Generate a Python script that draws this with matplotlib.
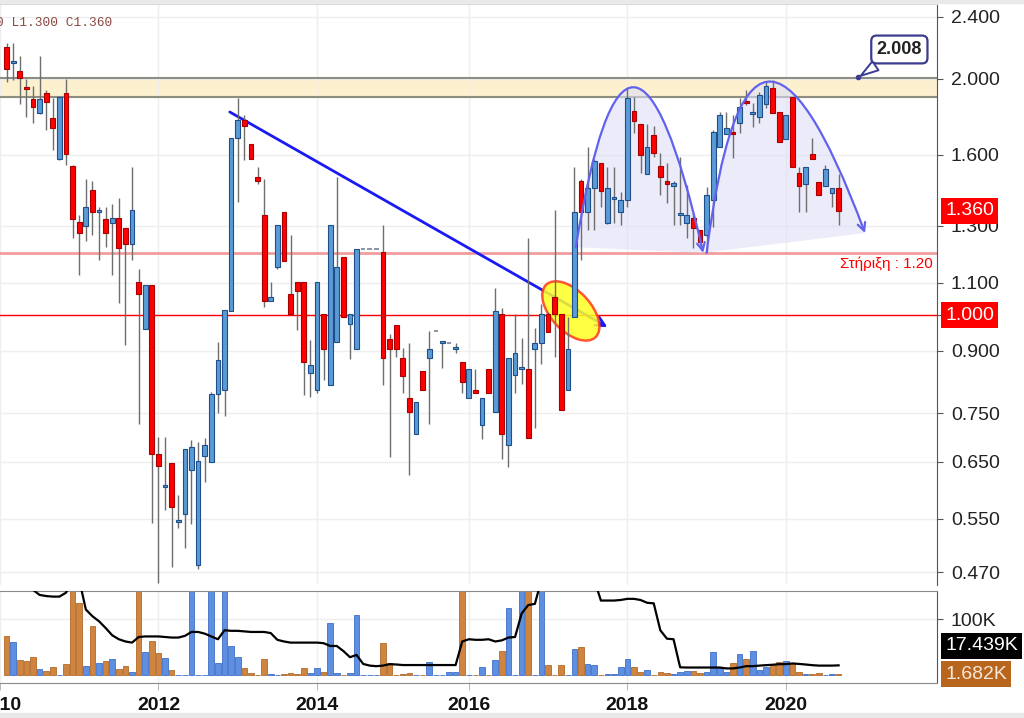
import numpy as np
import matplotlib
matplotlib.use("Agg")
import matplotlib.pyplot as plt
from matplotlib.patches import Ellipse, PathPatch, FancyArrowPatch, Rectangle
from matplotlib.path import Path
from matplotlib.transforms import ScaledTranslation, blended_transform_factory

plt.rcParams['font.family'] = ['Liberation Sans', 'DejaVu Sans']

# monthly bars, index 0 = Feb 2010 (axis is bar-index based)
opens = [2.195, 2.095, 2.046, 1.945, 1.884, 1.809, 1.918, 1.782, 1.580, 1.918,
         1.548, 1.314, 1.298, 1.443, 1.353, 1.325, 1.310, 1.329, 1.291, 1.232,
         1.102, 0.960, 1.092, 0.665, 0.603, 0.648, 0.545, 0.558, 0.635, 0.480,
         0.661, 0.650, 0.793, 0.803, 1.012, 1.681, 1.772, 1.651, 1.499, 1.341,
         1.042, 1.151, 1.353, 1.064, 1.102, 1.102, 0.843, 0.803, 1.003, 0.814,
         0.924, 1.185, 0.974, 0.905, 1.214, 1.214, 1.214, 1.203, 0.932, 0.971,
         0.882, 0.784, 0.705, 0.848, 0.882, 0.954, 0.921, 0.921, 0.905, 0.871,
         0.784, 0.803, 0.724, 0.853, 0.752, 1.003, 0.683, 0.839, 0.853, 0.853,
         0.905, 0.921, 1.003, 1.054, 1.003, 0.803, 0.994, 1.482, 1.353, 1.451,
         1.562, 1.310, 1.405, 1.353, 1.401, 1.819, 1.751, 1.512, 1.696, 1.548,
         1.482, 1.460, 1.341, 1.310, 1.329, 1.283, 1.265, 1.401, 1.637, 1.700,
         1.711, 1.756, 1.873, 1.803, 1.788, 1.857, 1.946, 1.814, 1.676, 1.896,
         1.517, 1.469, 1.604, 1.477, 1.460, 1.430, 1.451]
highs = [2.221, 2.221, 2.138, 1.998, 1.958, 2.138, 1.935, 1.890, 1.900, 1.998,
         1.553, 1.341, 1.490, 1.482, 1.373, 1.373, 1.385, 1.409, 1.291, 1.544,
         1.144, 1.092, 1.092, 0.699, 0.699, 0.648, 0.590, 0.675, 0.693, 0.689,
         0.697, 0.798, 0.924, 1.015, 1.681, 1.890, 1.798, 1.651, 1.544, 1.490,
         1.102, 1.302, 1.353, 1.265, 1.102, 1.102, 0.929, 1.102, 1.003, 1.302,
         1.499, 1.185, 1.003, 1.214, 1.214, 1.214, 1.214, 1.302, 0.946, 0.971,
         0.908, 0.921, 0.775, 0.848, 0.954, 0.954, 0.921, 0.921, 0.921, 0.871,
         0.853, 0.853, 0.784, 0.853, 1.082, 1.021, 0.882, 1.003, 0.935, 1.253,
         0.963, 1.033, 1.010, 1.361, 1.003, 0.994, 1.544, 1.490, 1.637, 1.580,
         1.562, 1.544, 1.544, 1.434, 1.946, 1.896, 1.751, 1.751, 1.740, 1.608,
         1.562, 1.480, 1.590, 1.464, 1.349, 1.283, 1.456, 1.721, 1.814, 1.814,
         1.798, 1.890, 1.935, 1.862, 1.924, 1.987, 1.992, 1.814, 1.798, 1.896,
         1.544, 1.544, 1.681, 1.477, 1.553, 1.451, 1.512]
lows = [1.981, 1.992, 1.857, 1.788, 1.756, 1.805, 1.721, 1.623, 1.576, 1.553,
        1.253, 1.124, 1.242, 1.265, 1.175, 1.221, 1.124, 1.036, 0.916, 1.175,
        0.726, 0.960, 0.543, 0.456, 0.564, 0.477, 0.535, 0.505, 0.542, 0.475,
        0.613, 0.650, 0.750, 0.744, 1.012, 1.393, 1.576, 1.580, 1.470, 1.024,
        1.042, 1.145, 1.172, 1.003, 0.957, 0.791, 0.786, 0.795, 0.826, 0.814,
        0.924, 0.994, 0.879, 0.905, 1.214, 1.214, 1.214, 0.814, 0.659, 0.884,
        0.795, 0.625, 0.705, 0.803, 0.726, 0.954, 0.856, 0.921, 0.894, 0.795,
        0.784, 0.795, 0.695, 0.795, 0.752, 0.655, 0.640, 0.795, 0.817, 0.697,
        0.718, 0.866, 0.951, 0.884, 0.757, 0.803, 0.994, 1.175, 1.283, 1.283,
        1.373, 1.306, 1.310, 1.302, 1.373, 1.706, 1.517, 1.512, 1.590, 1.422,
        1.389, 1.302, 1.302, 1.253, 1.217, 1.228, 1.203, 1.295, 1.637, 1.700,
        1.585, 1.706, 1.850, 1.736, 1.756, 1.835, 1.809, 1.661, 1.676, 1.544,
        1.353, 1.353, 1.580, 1.422, 1.460, 1.373, 1.302]
closes = [2.058, 2.100, 2.004, 1.940, 1.841, 1.884, 1.868, 1.731, 1.896, 1.604,
          1.325, 1.272, 1.373, 1.353, 1.361, 1.272, 1.329, 1.217, 1.232, 1.361,
          1.064, 1.092, 0.665, 0.642, 0.605, 0.569, 0.548, 0.675, 0.679, 0.652,
          0.683, 0.793, 0.876, 1.015, 1.681, 1.772, 1.741, 1.580, 1.482, 1.042,
          1.054, 1.302, 1.172, 1.003, 1.073, 0.871, 0.864, 1.102, 0.905, 1.302,
          1.151, 0.994, 1.003, 1.214, 1.214, 1.214, 1.214, 0.882, 0.905, 0.905,
          0.836, 0.752, 0.775, 0.803, 0.905, 0.954, 0.921, 0.921, 0.907, 0.822,
          0.853, 0.795, 0.784, 0.795, 1.012, 0.705, 0.882, 0.894, 0.855, 0.697,
          0.921, 1.003, 0.951, 1.003, 0.757, 0.905, 1.353, 1.353, 1.451, 1.571,
          1.439, 1.451, 1.407, 1.401, 1.890, 1.767, 1.599, 1.637, 1.608, 1.499,
          1.469, 1.473, 1.343, 1.341, 1.291, 1.239, 1.422, 1.711, 1.798, 1.731,
          1.700, 1.841, 1.862, 1.805, 1.907, 1.958, 1.809, 1.661, 1.798, 1.544,
          1.460, 1.544, 1.580, 1.422, 1.535, 1.451, 1.357]
# volume in thousands (tall bars run off the top of the panel)
volumes = [70, 59, 27, 25, 32, 11, 7, 14, 1, 20,
           200, 129, 16, 88, 21, 25, 28, 11, 16, 6,
           200, 41, 61, 40, 30, 9, 1, 0.5, 200, 0.5,
           0.5, 200, 22, 200, 52, 33, 12, 4, 1, 28,
           2, 0.5, 1.5, 3, 2, 12, 3, 12, 6, 93,
           3, 1, 3, 107, 0, 0, 0, 57, 21, 0.5,
           2, 3, 1, 0.5, 23, 0.5, 0, 5, 6, 200,
           0.5, 0.5, 14, 0.5, 27, 43, 120, 0.5, 200, 200,
           0.5, 200, 18, 0.5, 18, 0.5, 46, 50, 20, 18,
           1, 2, 2, 14, 29, 14, 5, 10, 1, 6,
           3, 2, 5, 7, 8, 3, 6, 41, 14, 6,
           21, 37, 28, 43, 10, 15, 20, 24, 26, 21,
           5, 1.5, 2, 3, 1, 2, 1.682]
vol_ma = [170, 170, 170, 170, 152, 143, 141, 140, 140, 147,
          170, 170, 117, 105, 96, 84, 71, 64, 60, 58,
          68, 69, 69, 69, 68, 67, 67, 70, 77, 77,
          74, 69, 64, 80, 79, 79, 78, 77, 77, 77,
          75, 63, 60, 58, 58, 58, 58, 58, 57, 52,
          52, 43, 32, 36, 20, 17, 16, 17, 19.6, 19,
          18, 18, 18, 18, 18, 18, 18, 18, 18, 60,
          64, 63, 63, 64, 60, 62, 67, 68, 110, 125,
          127, 170, 170, 170, 170, 170, 170, 170, 170, 170,
          133, 133, 133, 134, 136, 136, 134, 129, 128, 80,
          65, 64, 14, 13.6, 13.6, 13.6, 13.6, 13.6, 13.6, 12,
          12, 13.6, 16, 16, 17, 17.8, 18.5, 19.6, 19.6, 20.8,
          20, 19, 17.8, 17, 17, 17, 17.439]

year_labels = ['2010', '2012', '2014', '2016', '2018', '2020']
year_pos = [-1, 23, 47, 70, 94, 118]
price_ticks = [2.4, 2.0, 1.6, 1.3, 1.1, 1.0, 0.9, 0.75, 0.65, 0.55, 0.47]
legend_text = 'O1.420 H1.510 L1.300 C1.360'

# drawings on the chart
zone = (1.896, 2.004)
support_level = 1.20
round_level = 1.0
trend_start = (33.8, 1.814)
trend_end = (91.0, 0.965)
ellipse_center = (85.45, 1.012)
arc1 = [(86.2, 1.22), (94.1, 3.135), (105.5, 1.20)]
arc2 = [(106.0, 1.20), (112.4, 3.171), (130.0, 1.272)]
callout_xy = (129.0, 2.008)
callout_text_xy = (135.2, 2.179)

opens, highs, lows, closes = map(np.array, (opens, highs, lows, closes))
volumes = np.array(volumes)
x = np.arange(len(opens))
up = closes >= opens
flat = highs == lows

fig = plt.figure(figsize=(10.24, 7.18), dpi=100)
ax = fig.add_axes([0, 1 - 585 / 718, 937 / 1024, 581 / 718])
axv = fig.add_axes([0, 1 - 683 / 718, 937 / 1024, 92 / 718], sharex=ax)

fig.add_artist(Rectangle((0, 0), 1, 5 / 718, transform=fig.transFigure, color='#e9e9e9'))
fig.add_artist(Rectangle((0, 1 - 3 / 718), 1, 3 / 718, transform=fig.transFigure, color='#e9e9e9'))

ax.set_yscale('log')
ax.set_ylim(0.453, 2.49)
ax.set_xlim(-0.63, 140.9)
ax.set_axisbelow(True)

# zone, levels
ax.axhspan(zone[0], zone[1], color='#fdf0cf', zorder=0.5)
for z in zone:
    ax.axhline(z, color='#8e8e80', lw=1.5, zorder=0.6)
ax.axhline(support_level, color='#f08c8c', lw=2, alpha=0.85, zorder=1)
ax.axhline(round_level, color='#ff0000', lw=1, zorder=1)

# double top arcs with light fill
fill_path = Path(arc1 + arc2 + [arc1[2], arc1[0], arc1[0]],
                 [Path.MOVETO, Path.CURVE3, Path.CURVE3, Path.LINETO, Path.CURVE3,
                  Path.CURVE3, Path.LINETO, Path.LINETO, Path.CLOSEPOLY])
ax.add_patch(PathPatch(fill_path, fc='#dedef7', ec='none', alpha=0.6, zorder=1.2))

# trend line (under the ellipse)
ax.add_patch(FancyArrowPatch(trend_start, trend_end, arrowstyle='->', mutation_scale=16,
                             color='#1a1af5', lw=2, shrinkA=0, shrinkB=0, zorder=2))

ell_tr = fig.dpi_scale_trans + ScaledTranslation(ellipse_center[0], ellipse_center[1], ax.transData)
ax.add_patch(Ellipse((0, 0), 0.72, 0.40, angle=-47, transform=ell_tr,
                     fc='#ffff22', ec='#ff3a1a', lw=1.8, alpha=0.85, zorder=3))

# candles
ax.vlines(x[~flat], lows[~flat], highs[~flat], color='#6e6e6e', lw=1, zorder=4)
lo = np.minimum(opens, closes)
hi = np.maximum(opens, closes)
h = np.maximum(hi - lo, lo * 0.006)
m = up & ~flat
ax.bar(x[m], h[m], bottom=lo[m], width=0.72, color='#5b9bd5', edgecolor='#1f4f8a', lw=0.8, zorder=5)
m = ~up & ~flat
ax.bar(x[m], h[m], bottom=lo[m], width=0.72, color='#ff0000', edgecolor='#a80000', lw=0.8, zorder=5)
ax.hlines(closes[flat], x[flat] - 0.35, x[flat] + 0.35, color='#7f8c99', lw=1.3, zorder=5)

for arc in (arc1, arc2):
    ax.add_patch(FancyArrowPatch(path=Path(arc, [Path.MOVETO, Path.CURVE3, Path.CURVE3]),
                                 arrowstyle='->', mutation_scale=14, color='#6262ee', lw=1.6, zorder=6))

# callout with the zone top
ax.plot(*callout_xy, 'o', ms=3, color='#3b3b8f', zorder=7)
ax.annotate('2.008', xy=callout_xy, xytext=callout_text_xy, ha='center', va='center',
            fontsize=13, fontweight='bold', color='#222222', zorder=8,
            bbox=dict(boxstyle='round,pad=0.3', fc='white', ec='#3b3b8f', lw=1.6),
            arrowprops=dict(arrowstyle='wedge,tail_width=0.6', fc='white', ec='#3b3b8f', lw=1.4))

ax.text(0.995, support_level * 0.97, 'Στήριξη : 1.20', transform=blended_transform_factory(ax.transAxes, ax.transData),
        ha='right', va='center', color='#ff0000', fontsize=11, zorder=7)
ax.text(112 / 937, 0.967, legend_text, transform=ax.transAxes, ha='right', va='center',
        color='#8b4a42', fontsize=9.3, family=['Liberation Mono', 'DejaVu Sans Mono'])

# price axis on the right
ax.yaxis.tick_right()
ax.set_yticks(price_ticks)
ax.set_yticklabels(['' if t == round_level else '%.3f' % t for t in price_ticks])
ax.yaxis.set_minor_locator(matplotlib.ticker.NullLocator())
ax.tick_params(axis='y', length=4, color='#555555', pad=6, labelsize=14, labelcolor='#222222')
ax.set_xticks(year_pos)
ax.tick_params(axis='x', length=0, labelbottom=False)
ax.grid(True, color='#eeeeee', lw=1)
for s in ('left', 'bottom'):
    ax.spines[s].set_visible(False)
ax.spines['top'].set_color('#d8d8d8')
ax.spines['right'].set_color('#555555')

ytr = blended_transform_factory(ax.transAxes, ax.transData)
for val, txt in ((closes[-1], '1.360'), (round_level, '1.000')):
    ax.annotate(txt, xy=(1, val), xycoords=ytr, xytext=(6, 0), textcoords='offset points',
                ha='left', va='center', color='white', fontsize=14, annotation_clip=False,
                bbox=dict(boxstyle='square,pad=0.22', fc='#ff0000', ec='none'), zorder=10)

# volume panel
vcol = np.where(up, '#5e8fe0', '#cf8540')
vedge = np.where(up, '#3f6fc8', '#b26a2a')
axv.bar(x, volumes, width=0.85, color=vcol, edgecolor=vedge, lw=0.6, zorder=2)
axv.plot(x, vol_ma, color='black', lw=1.6, zorder=3)
axv.set_ylim(-14, 150)
axv.yaxis.tick_right()
axv.set_yticks([100])
axv.set_yticklabels(['100K'])
axv.tick_params(axis='y', length=4, color='#555555', pad=6, labelsize=14, labelcolor='#222222')
axv.set_xticks(year_pos)
axv.set_xticklabels(year_labels, fontweight='bold')
axv.tick_params(axis='x', length=5, color='#bbbbbb', pad=5, labelsize=14, labelcolor='#111111')
axv.grid(True, color='#eeeeee', lw=1)
axv.set_axisbelow(True)
axv.spines['left'].set_visible(False)
for s in ('top', 'bottom'):
    axv.spines[s].set_color('#8a8a8a')
axv.spines['right'].set_color('#555555')

vtr = blended_transform_factory(axv.transAxes, axv.transData)
axv.annotate('%.3fK' % vol_ma[-1], xy=(1, vol_ma[-1]), xycoords=vtr, xytext=(6, 14),
             textcoords='offset points', ha='left', va='center', color='white', fontsize=14,
             annotation_clip=False, bbox=dict(boxstyle='square,pad=0.22', fc='black', ec='none'))
axv.annotate('%.3fK' % volumes[-1], xy=(1, volumes[-1]), xycoords=vtr, xytext=(6, 0),
             textcoords='offset points', ha='left', va='center', color='#f6e8da', fontsize=14,
             annotation_clip=False, bbox=dict(boxstyle='square,pad=0.22', fc='#b8661e', ec='none'))

fig.savefig('out.png', dpi=100)
